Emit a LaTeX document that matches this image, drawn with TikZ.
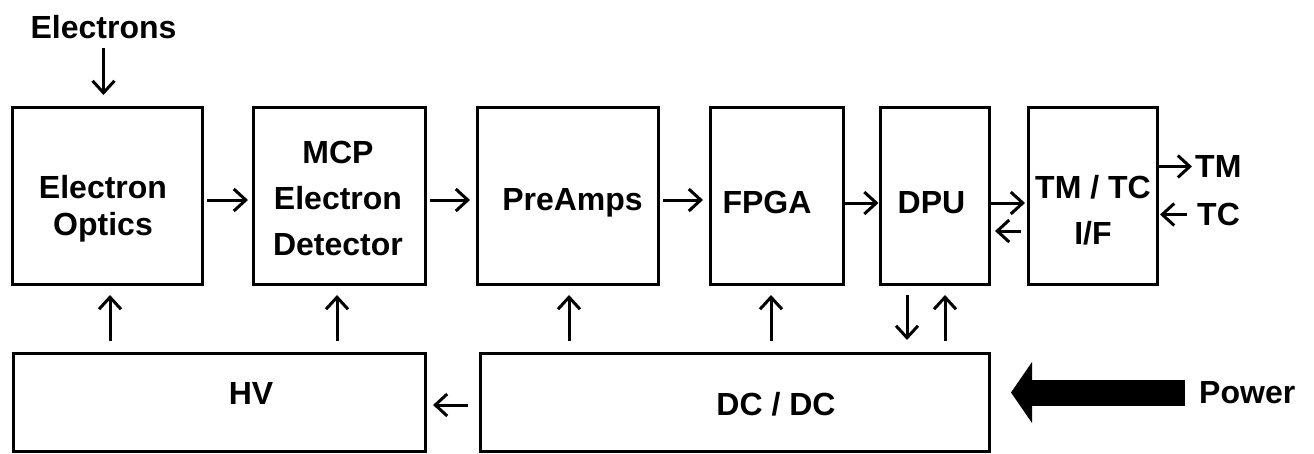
\documentclass[tikz,border=0pt]{standalone}
\usepackage{fontspec}
\setmainfont{Liberation Sans}
\usetikzlibrary{arrows.meta}

\begin{document}
\begin{tikzpicture}[x=1pt, y=-1pt, font=\bfseries\fontsize{32}{46}\selectfont,
        box/.style={draw, line width=3pt, inner sep=0pt},
        arr/.style={line width=3pt, -{Straight Barb[length=12pt,width=22pt]}},
        every label/.style={inner sep=0pt, align=center}]
        \useasboundingbox (0,0) rectangle (1314,453);
        % top row
        \node[box, minimum width=190pt, minimum height=177pt, label={[shift={(-4pt,-12.8pt)}]center:Electron\\[-9pt]Optics}](optics) at (107,195.5) {};
        \node[box, minimum width=172pt, minimum height=177pt, label={[shift={(-1pt,-3pt)}]center:MCP\\Electron\\Detector}](mcp) at (339,195.5) {};
        \node[box, minimum width=181pt, minimum height=177pt, label={[shift={(5pt,-7.7pt)}]center:PreAmps}](preamps) at (567.5,195.5) {};
        \node[box, minimum width=133pt, minimum height=177pt, label={[shift={(-9.5pt,-7pt)}]center:FPGA}](fpga) at (776.5,195.5) {};
        \node[box, minimum width=109pt, minimum height=177pt, label={[shift={(-3pt,-7pt)}]center:DPU}](dpu) at (934.5,195.5) {};
        \node[box, minimum width=129pt, minimum height=177pt, label={[shift={(0.5pt,-14.5pt)}]center:TM / TC\\I/F}](tmtc) at (1092.5,195.5) {};
        % bottom row
        \node[box, minimum width=412pt, minimum height=98pt, label={[shift={(32pt,8.5pt)}]center:HV}](hv) at (219,402) {};
        \node[box, minimum width=509pt, minimum height=98pt, label={[shift={(41.5pt,-2.5pt)}]center:DC / DC}](dcdc) at (734.5,402) {};
        % outside texts
        \node[inner sep=0pt](electrons) at (103.5,27) {Electrons};
        \node[inner sep=0pt, anchor=west](tm) at (1195,166.5) {TM};
        \node[inner sep=0pt, anchor=west](tc) at (1197,214.5) {TC};
        \node[inner sep=0pt, anchor=west](power) at (1199,392.5) {Power};
        % signal chain
        \draw[arr, shorten <=9.3pt, shorten >=10.5pt] (electrons.south) -- ([xshift=-3.5pt]optics.north);
        \draw[arr, shorten <=3.5pt, shorten >=3.5pt] ([yshift=-4.5pt]optics.east) -- ([yshift=-4.5pt]mcp.west);
        \draw[arr, shorten <=3.5pt, shorten >=5.5pt] ([yshift=-4.5pt]mcp.east) -- ([yshift=-4.5pt]preamps.west);
        \draw[arr, shorten <=3.5pt, shorten >=5.5pt] ([yshift=-4.5pt]preamps.east) -- ([yshift=-4.5pt]fpga.west);
        \draw[arr] ([yshift=-7.5pt]fpga.east) -- ([yshift=-7.5pt]dpu.west);
        \draw[arr, shorten >=1.5pt] ([yshift=-7.5pt]dpu.east) -- ([yshift=-7.5pt]tmtc.west);
        \draw[arr, shorten <=5.5pt, shorten >=4.5pt] ([yshift=-35.5pt]tmtc.west) -- ([yshift=-35.5pt]dpu.east);
        \draw[arr, shorten >=3pt] (tm.west -| tmtc.east) -- (tm.west);
        \draw[arr, shorten <=10pt, shorten >=1.5pt] (tc.west) -- (tc.west -| tmtc.east);
        % supplies
        \draw[arr, shorten <=10.5pt, shorten >=6.5pt] ([yshift=-3pt]dcdc.west) -- ([yshift=-3pt]hv.east);
        \draw[arr, shorten <=10.5pt, shorten >=9.5pt] ([xshift=-109pt]hv.north) -- ([xshift=3pt]optics.south);
        \draw[arr, shorten <=10.5pt, shorten >=9.5pt] ([xshift=118pt]hv.north) -- ([xshift=-2pt]mcp.south);
        \draw[arr, shorten <=10.5pt, shorten >=9.5pt] ([xshift=-165.5pt]dcdc.north) -- ([xshift=1.5pt]preamps.south);
        \draw[arr, shorten <=10.5pt, shorten >=9.5pt] ([xshift=36.5pt]dcdc.north) -- ([xshift=-5.5pt]fpga.south);
        \draw[arr, shorten <=9.5pt, shorten >=11.5pt] ([xshift=-27.5pt]dpu.south) -- ([xshift=172.5pt]dcdc.north);
        \draw[arr, shorten <=10.5pt, shorten >=9.5pt] ([xshift=210.5pt]dcdc.north) -- ([xshift=10.5pt]dpu.south);
        \draw[line width=26pt, -{Triangle[length=21pt,width=60pt]}, shorten <=14pt, shorten >=20.5pt] (power.west) -- (power.west -| dcdc.east);
\end{tikzpicture}
\end{document}
